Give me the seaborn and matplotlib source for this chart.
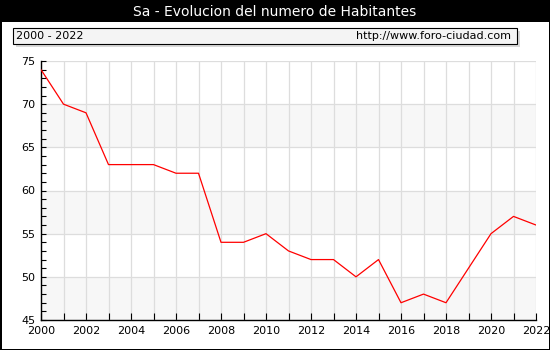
import matplotlib
matplotlib.use("Agg")
import matplotlib.pyplot as plt
from matplotlib.patches import Rectangle
from matplotlib.ticker import MultipleLocator
import seaborn as sns
import pandas as pd

years = list(range(2000, 2023))
habitantes = [74, 70, 69, 63, 63, 63, 62, 62, 54, 54, 55, 53, 52, 52,
              50, 52, 47, 48, 47, 51, 55, 57, 56]
title = "Sa - Evolucion del numero de Habitantes"
period_label = "2000 - 2022"
site_label = "http://www.foro-ciudad.com"

df = pd.DataFrame({"year": years, "habitantes": habitantes})

sns.set_theme(style="white")
plt.rcParams["font.family"] = ["DejaVu Sans"]
plt.rcParams["text.color"] = "black"

fig = plt.figure(figsize=(5.5, 3.5), dpi=100)
fig.patch.set_facecolor("white")

# black title bar and outer frame
fig.patches.append(Rectangle((0, 1 - 22 / 350), 1, 22 / 350, transform=fig.transFigure,
                             facecolor="black", edgecolor="none", zorder=0))
for rect in [(0, 0, 1.5 / 550, 1), (1 - 1.5 / 550, 0, 1.5 / 550, 1), (0, 0, 1, 1.5 / 350)]:
    fig.patches.append(Rectangle(rect[:2], rect[2], rect[3], transform=fig.transFigure,
                                 facecolor="black", edgecolor="none", zorder=0))
fig.text(0.5, 1 - 12 / 350, title, color="white", ha="center", va="center", fontsize=10)

# header box with shadow
bx0, by0, bw, bh = 13 / 550, 1 - 44 / 350, 504 / 550, 16 / 350
fig.patches.append(Rectangle((bx0 + 3 / 550, by0 - 3 / 350), bw, bh, transform=fig.transFigure,
                             facecolor="#d8d8d8", edgecolor="none", zorder=1))
fig.patches.append(Rectangle((bx0, by0), bw, bh, transform=fig.transFigure,
                             facecolor="#f4f4f4", edgecolor="black", linewidth=0.8, zorder=2))
fig.text(bx0 + 3 / 550, by0 + bh / 2, period_label, ha="left", va="center", fontsize=8,
         color="black", zorder=3)
fig.text(bx0 + bw - 6 / 550, by0 + bh / 2, site_label, ha="right", va="center", fontsize=8,
         color="black", zorder=3)

ax = fig.add_axes([41 / 550, 1 - 320 / 350, 495 / 550, 259 / 350])
ax.set_facecolor("white")

# alternating horizontal bands
for lo in (45, 55, 65):
    ax.axhspan(lo, lo + 5, facecolor="#f7f7f7", edgecolor="none", zorder=0)

sns.lineplot(data=df, x="year", y="habitantes", ax=ax, color="red", linewidth=0.9, zorder=3)

ax.set_xlim(2000, 2022)
ax.set_ylim(45, 75)
ax.xaxis.set_major_locator(MultipleLocator(2))
ax.xaxis.set_minor_locator(MultipleLocator(1))
ax.yaxis.set_major_locator(MultipleLocator(5))
ax.yaxis.set_minor_locator(MultipleLocator(1))
ax.grid(which="major", axis="y", color="#dddddd", linewidth=0.9, zorder=1)
ax.grid(which="both", axis="x", color="#dddddd", linewidth=0.9, zorder=1)
ax.set_axisbelow(True)

ax.set_xlabel("")
ax.set_ylabel("")
for side in ("top", "right"):
    ax.spines[side].set_visible(False)
for side in ("left", "bottom"):
    ax.spines[side].set_color("black")
    ax.spines[side].set_linewidth(1)

# ticks point into the plot area
ax.tick_params(axis="x", which="both", direction="in", length=5, width=0.8,
               color="black", labelcolor="black", labelsize=8, pad=4, bottom=True)
ax.tick_params(axis="y", which="both", direction="in", length=3.5, width=0.8,
               color="black", labelcolor="black", labelsize=8, pad=4, left=True)

fig.savefig("out.png", dpi=100)
